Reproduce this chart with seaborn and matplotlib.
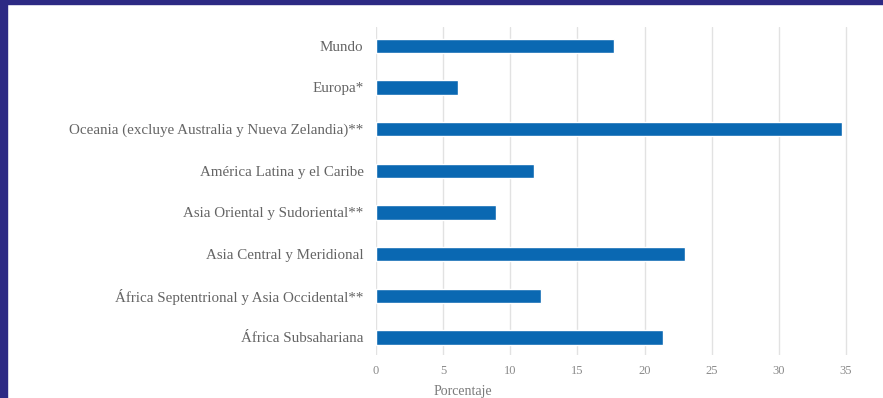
import pandas as pd
import matplotlib
matplotlib.use('Agg')
import matplotlib.pyplot as plt
import seaborn as sns
from matplotlib.patches import Rectangle

# Data
regiones = ["Mundo", "Europa*", "Oceania (excluye Australia y Nueva Zelandia)**",
            "América Latina y el Caribe", "Asia Oriental y Sudoriental**",
            "Asia Central y Meridional", "África Septentrional y Asia Occidental**",
            "África Subsahariana"]
porcentaje = [17.7, 6.1, 34.7, 11.8, 8.9, 23.0, 12.3, 21.4]
ticks = [0, 5, 10, 15, 20, 25, 30, 35]

df = pd.DataFrame({"Region": regiones, "Porcentaje": porcentaje})

sns.set_style("white")
plt.rcParams['font.family'] = ['Liberation Serif', 'DejaVu Serif']

fig = plt.figure(figsize=(8.83, 3.98), dpi=100)
ax = fig.add_axes([376 / 883, 1 - 355 / 398, 472 / 883, 328 / 398])

sns.barplot(data=df, y="Region", x="Porcentaje", color="#0a68b2", saturation=1,
            width=0.34, orient="h", ax=ax, zorder=3)

ax.set_xlim(0, 35.15)
ax.set_ylim(7.42, -0.45)
ax.set_xticks(ticks)
ax.set_xticklabels([str(t) for t in ticks], color="#8a8a8a", fontsize=9)
ax.tick_params(axis="x", length=0, pad=7)
ax.tick_params(axis="y", length=0, pad=9, labelsize=10.8, labelcolor="#646464")
ax.grid(axis="x", color="#e2e2e2", linewidth=1, zorder=0)
for s in ax.spines.values():
    s.set_visible(False)
ax.set_ylabel("")
ax.set_xlabel("")
fig.text(463 / 883, 1 - 391 / 398, "Porcentaje", ha="center", va="center",
         fontsize=10, color="#7a7a7a")

# navy frame on left and top
fig.patches.append(Rectangle((0, 0), 7 / 883, 1, transform=fig.transFigure,
                             color="#2d2a84", zorder=10))
fig.patches.append(Rectangle((0, 1 - 4 / 398), 1, 4 / 398, transform=fig.transFigure,
                             color="#2d2a84", zorder=10))

fig.savefig("out.png", dpi=100)
plt.close()
